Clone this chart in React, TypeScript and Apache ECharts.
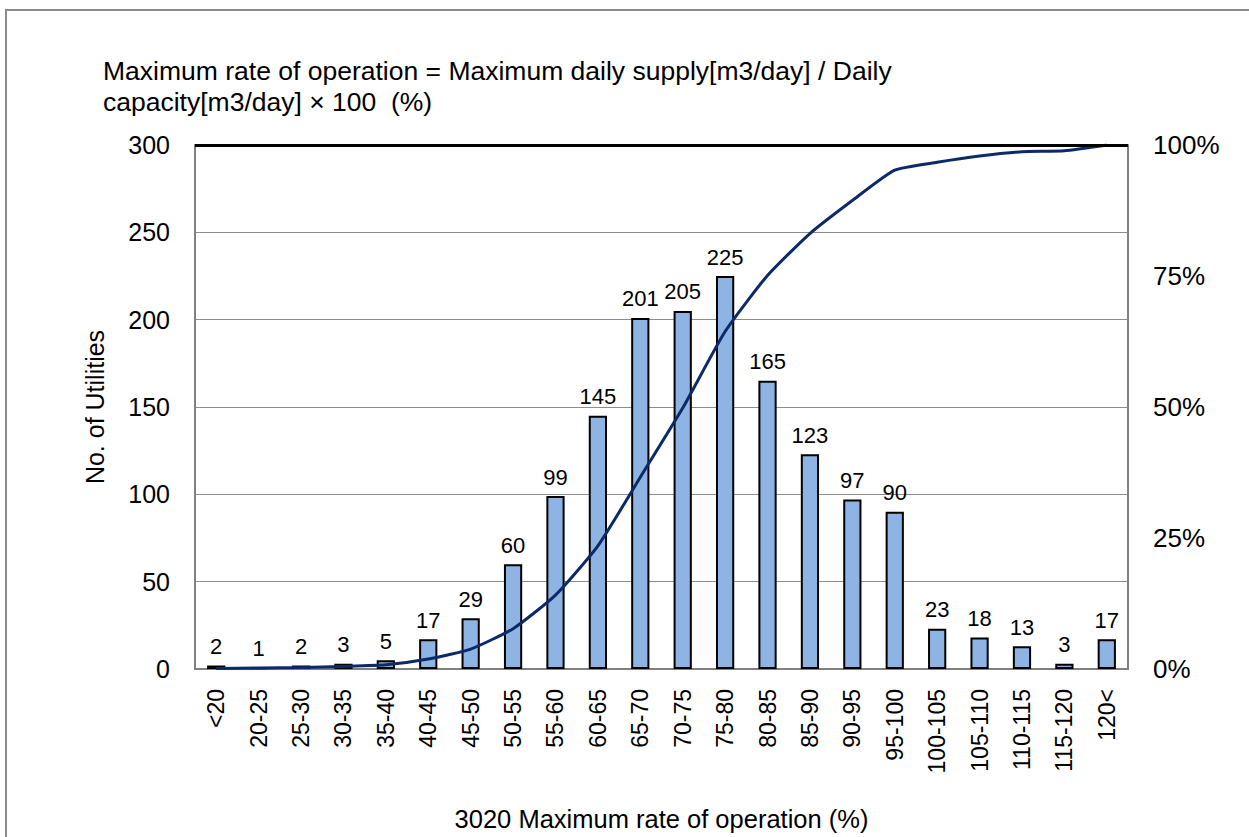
import React, { useEffect, useRef } from "react";
import * as echarts from "echarts";

const categories = ["<20", "20-25", "25-30", "30-35", "35-40", "40-45", "45-50", "50-55", "55-60", "60-65", "65-70", "70-75", "75-80", "80-85", "85-90", "90-95", "95-100", "100-105", "105-110", "110-115", "115-120", "120<"];
const counts = [2, 1, 2, 3, 5, 17, 29, 60, 99, 145, 201, 205, 225, 165, 123, 97, 90, 23, 18, 13, 3, 17];
const cumulative = [0.001, 0.002, 0.003, 0.005, 0.008, 0.019, 0.038, 0.077, 0.141, 0.235, 0.366, 0.498, 0.644, 0.751, 0.831, 0.894, 0.952, 0.967, 0.979, 0.987, 0.989, 1.0];
const leftTicks = [0, 50, 100, 150, 200, 250, 300];
const titleLines = ["Maximum rate of operation = Maximum daily supply[m3/day] / Daily", "capacity[m3/day] \u00d7 100  (%)"];

const FONT = "'Liberation Sans', Arial, sans-serif";

export default function App() {
  const ref = useRef<HTMLDivElement>(null);
  useEffect(() => {
    if (!ref.current) return;
    const chart = echarts.init(ref.current, null, { renderer: "svg" });
    chart.setOption({
      animation: false,
      backgroundColor: "#ffffff",
      textStyle: { fontFamily: FONT, color: "#000" },
      graphic: [
        {
          type: "rect",
          shape: { x: 6, y: 10, width: 1300, height: 900 },
          style: { fill: "none", stroke: "#8c8c8c", lineWidth: 2 },
          silent: true,
        },
        {
          type: "text",
          left: 103,
          top: 55,
          style: {
            text: titleLines.join("\n"),
            font: `26.5px ${FONT}`,
            lineHeight: 31,
            fill: "#000",
          },
        },
      ],
      grid: { left: 195, right: 121, top: 145, bottom: 166, containLabel: false },
      xAxis: {
        type: "category",
        data: categories,
        name: "3020 Maximum rate of operation (%)",
        nameLocation: "middle",
        nameGap: 137,
        nameTextStyle: { fontSize: 25.5, fontFamily: FONT, color: "#000" },
        axisLine: { show: true, lineStyle: { color: "#808080", width: 2 } },
        axisTick: { show: false },
        axisLabel: { rotate: 90, fontSize: 23, fontFamily: FONT, color: "#000", margin: 20, interval: 0 },
      },
      yAxis: [
        {
          type: "value",
          min: 0,
          max: 300,
          interval: 50,
          name: "No. of Utilities",
          nameLocation: "middle",
          nameGap: 88,
          nameTextStyle: { fontSize: 25, fontFamily: FONT, color: "#000" },
          axisLine: { show: true, lineStyle: { color: "#808080", width: 2 } },
          axisTick: { show: false },
          axisLabel: {
            fontSize: 25,
            fontFamily: FONT,
            color: "#000",
            margin: 25,
            customValues: leftTicks,
          },
          splitLine: { show: true, lineStyle: { color: "#8c8c8c", width: 1 } },
        },
        {
          type: "value",
          min: 0,
          max: 1,
          interval: 0.25,
          position: "right",
          axisLine: { show: true, lineStyle: { color: "#808080", width: 2 } },
          axisTick: { show: false },
          axisLabel: {
            fontSize: 26,
            fontFamily: FONT,
            color: "#000",
            margin: 25,
            formatter: (v: number) => `${Math.round(v * 100)}%`,
          },
          splitLine: { show: false },
        },
      ],
      series: [
        {
          type: "bar",
          data: counts,
          barWidth: "43%",
          itemStyle: { color: "#8db4e2", borderColor: "#000", borderWidth: 2 },
          label: { show: true, position: "top", distance: 8, fontSize: 22, fontFamily: FONT, color: "#000" },
          markLine: {
            silent: true,
            symbol: "none",
            label: { show: false },
            lineStyle: { color: "#000", width: 3, type: "solid" },
            data: [{ yAxis: 300 }],
          },
          z: 2,
        },
        {
          type: "line",
          yAxisIndex: 1,
          data: cumulative,
          smooth: 0.18,
          symbol: "none",
          lineStyle: { color: "#0c2a6a", width: 3 },
          z: 3,
        },
      ],
    });
    return () => chart.dispose();
  }, []);
  return (
    <div
      ref={ref}
      style={{ position: "fixed", left: 0, top: 0, width: 1249, height: 837, background: "#fff" }}
    />
  );
}
